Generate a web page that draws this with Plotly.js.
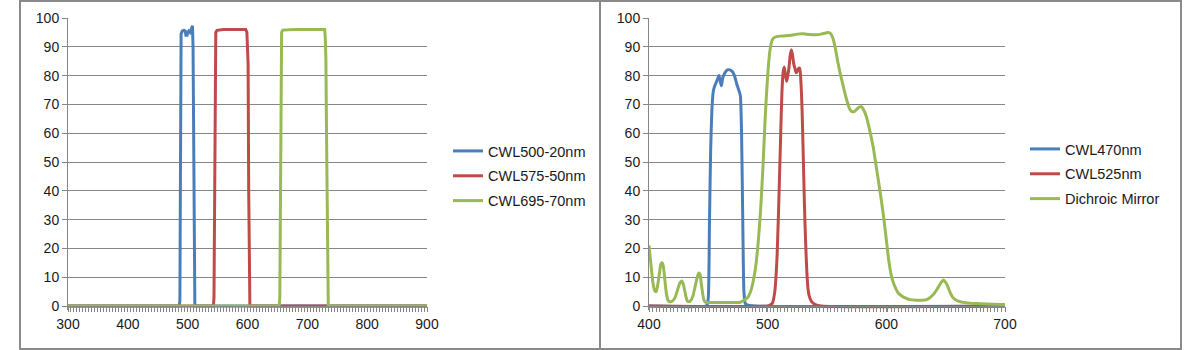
<!DOCTYPE html>
<html>
<head>
<meta charset="utf-8">
<script src="https://cdn.plot.ly/plotly-3.0.1.min.js"></script>
<style>html,body{margin:0;padding:0;background:#fff;}#chart{width:1200px;height:350px;}</style>
</head>
<body>
<div id="chart"></div>
<script>
// ---------- Left chart data (wavelength nm, transmission %) ----------
const leftNames = ["CWL500-20nm", "CWL575-50nm", "CWL695-70nm"];
const blueLX = [300, 486, 487, 488, 489, 491, 494, 496, 497, 499, 500, 502, 504, 506, 507, 508, 509, 510, 511, 512, 900];
const blueLY = [0, 0, 2, 60, 94.5, 95.5, 95.7, 95.5, 94, 94, 95, 95.5, 95, 96, 97, 97.3, 90, 50, 10, 0, 0];
const redLX = [300, 543, 544, 545, 546, 547, 549, 560, 580, 597, 599, 600, 601, 602, 603, 604, 900];
const redLY = [0, 0, 3, 40, 88, 95, 95.7, 96, 96, 96, 95, 88, 84, 40, 5, 0, 0];
const greenLX = [300, 653, 654, 655, 656, 657, 659, 680, 710, 729, 730, 731, 732, 733, 734, 735, 900];
const greenLY = [0, 0, 3, 40, 88, 95, 95.8, 96, 96, 96, 93, 86, 62, 30, 5, 0, 0];
const leftTicks = [300, 400, 500, 600, 700, 800, 900];

// ---------- Right chart data ----------
const rightNames = ["CWL470nm", "CWL525nm", "Dichroic Mirror"];
const blueRX = [400, 448, 449, 450, 451, 452, 453, 454, 455, 457, 459, 460, 461, 462, 464, 466, 468, 470, 472, 474, 476, 477, 478, 479, 480, 481, 482, 490, 700];
const blueRY = [0, 0, 0.5, 3, 30, 55, 68, 74, 76, 78, 80, 78, 76.5, 79, 81, 82, 82, 81.5, 80, 77, 74.5, 73, 60, 30, 5, 1, 0.5, 0, 0];
const redRX = [400, 500, 502, 504, 506, 508, 510, 511, 512, 513, 514, 515, 516, 517, 518, 519, 520, 521, 522, 523, 524, 525, 526, 527, 528, 529, 530, 531, 532, 533, 534, 535, 537, 540, 545, 700];
const redRY = [0, 0, 0.3, 1, 5, 18, 45, 60, 74, 81, 83, 80, 78, 80, 83, 87, 89, 87, 84, 82.5, 81, 81.5, 82.5, 82.5, 78, 68, 52, 35, 22, 12, 6, 3.5, 1.5, 0.5, 0, 0];
const greenRX = [400, 401, 402, 403, 404, 405, 406, 407, 408, 409, 410, 411, 412, 413, 414, 415, 416, 417, 418, 420, 422, 424, 426, 427.5, 429, 430, 431, 432, 433, 435, 437, 439, 441, 442, 443, 444, 445, 446, 447, 448, 450, 460, 470, 476, 478, 480, 482, 484, 486, 488, 490, 492, 494, 496, 498, 500, 502, 504, 506, 510, 515, 520, 525, 530, 535, 540, 545, 549, 551, 553, 555, 557, 559, 561, 563, 565, 567, 569, 571, 573, 575, 577, 579, 581, 583, 586, 589, 592, 595, 598, 600, 602, 604, 606, 608, 610, 613, 616, 620, 625, 630, 634, 637, 640, 643, 646, 648, 650, 652, 654, 656, 659, 663, 670, 680, 690, 700];
const greenRY = [21, 17, 13, 9, 6.5, 5.2, 5, 6.5, 9, 12, 14.5, 15, 14, 10.5, 6.5, 3.5, 2, 1.5, 1.5, 1.8, 3, 5.5, 8, 8.7, 7.5, 5.5, 3.5, 2, 1.5, 1.8, 3.5, 7, 10.5, 11.5, 11, 8, 5, 2.5, 1.5, 1.2, 1.2, 1.2, 1.2, 1.2, 1.5, 2, 2.5, 3.5, 5.5, 9, 14, 22, 33, 48, 66, 80, 89, 92.5, 93.3, 93.7, 93.8, 94, 94.4, 94.5, 94.3, 94.2, 94.4, 94.8, 95, 94.6, 93, 89.5, 85, 81, 77.5, 74, 71, 68.5, 67.5, 67.5, 68.3, 69, 69.2, 68, 66, 61, 55, 47, 39, 30, 23, 16, 11, 8, 6, 4.5, 3.5, 2.8, 2.2, 2, 2, 2.2, 3, 4.2, 6, 8, 9, 8.2, 6.5, 4.5, 3, 2, 1.4, 1, 0.8, 0.6, 0.5];
const rightTicks = [400, 500, 600, 700];

const yTicks = [0, 10, 20, 30, 40, 50, 60, 70, 80, 90, 100];
const colors = ["#4a7ebb", "#be4b48", "#98b954"];

const W = 1200, H = 350;
const FONT = "Liberation Sans, Arial, sans-serif";
const GRID = "#868686";
const Y0PX = 306, Y100PX = 18;           // pixel rows of 0 and 100
const PXU = (Y0PX - Y100PX) / 100;       // pixels per unit
const YMIN = -1.3;                       // small headroom so the 0-line is not clipped

function tr(x, y, name, color, xa, ya, legend, group, shape) {
  return {x: x, y: y, name: name, type: "scatter", mode: "lines",
    line: {color: color, width: 3, shape: shape || "linear", smoothing: 0.6},
    xaxis: xa, yaxis: ya, legend: legend, legendgroup: group, hoverinfo: "skip"};
}

const data = [
  tr(blueLX, blueLY, leftNames[0], colors[0], "x", "y", "legend", "a"),
  tr(redLX, redLY, leftNames[1], colors[1], "x", "y", "legend", "b"),
  tr(greenLX, greenLY, leftNames[2], colors[2], "x", "y", "legend", "c"),
  tr(blueRX, blueRY, rightNames[0], colors[0], "x2", "y2", "legend2", "d", "spline"),
  tr(redRX, redRY, rightNames[1], colors[1], "x2", "y2", "legend2", "e", "spline"),
  tr(greenRX, greenRY, rightNames[2], colors[2], "x2", "y2", "legend2", "f", "spline")
];

const yDom = [1 - (Y0PX - YMIN * PXU) / H, 1 - Y100PX / H];
const xPos = 1 - Y0PX / H;
function xax(dom, range, ticks, minorDt) {
  return {domain: dom, range: range, tickmode: "array", tickvals: ticks, ticktext: ticks.map(String),
    ticks: "outside", ticklen: 5, tickcolor: GRID, tickwidth: 1,
    showline: true, linecolor: GRID, linewidth: 1, showgrid: false, zeroline: false,
    minor: {dtick: minorDt, tick0: range[0], ticks: "outside", ticklen: 5, tickcolor: GRID, tickwidth: 1, showgrid: false},
    tickfont: {family: FONT, size: 14, color: "#1a1a1a"}, anchor: "free",
    position: xPos, fixedrange: true};
}
function yax(anchor) {
  return {domain: yDom, range: [YMIN, 100], tickmode: "array", tickvals: yTicks, ticktext: yTicks.map(String),
    ticks: "outside", ticklen: 5, tickcolor: GRID, showline: true, linecolor: GRID, linewidth: 1,
    showgrid: true, gridcolor: GRID, gridwidth: 1, zeroline: false,
    tickfont: {family: FONT, size: 14, color: "#1a1a1a"}, anchor: anchor, fixedrange: true};
}

const legendBase = {xanchor: "left", yanchor: "top", bgcolor: "rgba(0,0,0,0)", borderwidth: 0,
  font: {family: FONT, size: 14.5, color: "#1a1a1a"}, tracegroupgap: 3, traceorder: "grouped"};

const layout = {
  width: W, height: H, margin: {l: 0, r: 0, t: 0, b: 0},
  paper_bgcolor: "#fff", plot_bgcolor: "#fff", showlegend: true,
  xaxis: xax([68 / W, 427 / W], [300, 900], leftTicks, 5),
  yaxis: yax("x"),
  xaxis2: xax([649 / W, 1005 / W], [400, 700], rightTicks, 3),
  yaxis2: yax("x2"),
  legend: Object.assign({}, legendBase, {x: 448 / W, y: 1 - 135 / H}),
  legend2: Object.assign({}, legendBase, {x: 1025 / W, y: 1 - 133 / H}),
  shapes: [
    {type: "rect", xref: "paper", yref: "paper", x0: 20 / W, x1: 600 / W, y0: 1 / H, y1: 1 - 1 / H, line: {color: "#8a8a8a", width: 2}},
    {type: "rect", xref: "paper", yref: "paper", x0: 600 / W, x1: 1181 / W, y0: 1 / H, y1: 1 - 1 / H, line: {color: "#8a8a8a", width: 2}}
  ]
};

Plotly.newPlot("chart", data, layout, {staticPlot: true, displayModeBar: false});
</script>
</body>
</html>
